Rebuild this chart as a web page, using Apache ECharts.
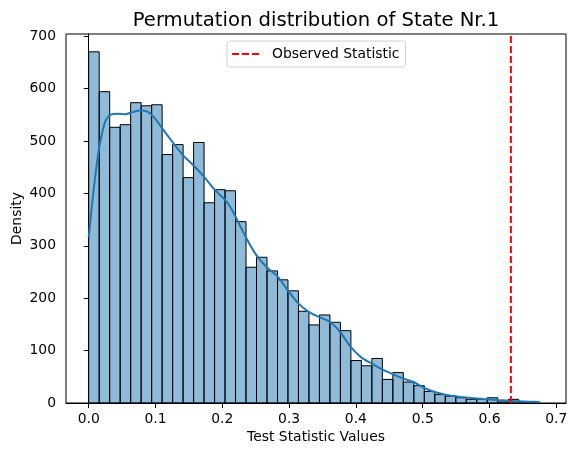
<!DOCTYPE html>
<html>
<head>
<meta charset="utf-8">
<script src="https://cdn.jsdelivr.net/npm/echarts@6/dist/echarts.min.js"></script>
<style>
html,body{margin:0;padding:0;background:#fff;}
#chart{width:577px;height:456px;}
</style>
</head>
<body>
<div id="chart"></div>
<script>
// Histogram: bins start at 0, each binWidth wide
const binStart = 0;
const binWidth = 0.0157;
const binCounts = [670, 594, 526, 531, 573, 567, 569, 474, 493, 430,
                   497, 382, 407, 405, 346, 259, 278, 252, 235, 214,
                   175, 149, 168, 154, 138, 81, 71, 85, 45, 58,
                   40, 33, 22, 16, 13, 10, 7, 7, 10, 2,
                   7, 2, 1];
// KDE curve
const kdeX = [0.0, 0.0054, 0.0105, 0.0154, 0.0204, 0.0254, 0.033, 0.043, 0.0554, 0.0653,
              0.078, 0.0878, 0.0978, 0.1078, 0.120, 0.1327, 0.1416, 0.157, 0.173, 0.1886,
              0.2045, 0.2115, 0.22, 0.235, 0.251, 0.2665, 0.2824, 0.298, 0.3138, 0.3293,
              0.345, 0.3608, 0.3767, 0.3922, 0.408, 0.4237, 0.4395, 0.455, 0.471, 0.4865,
              0.5024, 0.518, 0.5338, 0.5494, 0.5653, 0.5808, 0.5967, 0.6123, 0.628, 0.644,
              0.6596, 0.6752];
const kdeY = [316, 383, 440, 485, 517, 539, 550, 552, 551, 555,
              558, 556, 545, 528, 507, 486, 472, 453, 431, 407,
              387, 375, 355, 317, 282, 259, 242, 215, 190, 174,
              164, 155, 135, 107, 87, 75, 64, 55, 46.5, 40,
              28.6, 21, 16, 12.8, 10.3, 8.4, 7, 5.7, 4.5, 3.2,
              2.5, 2];
const observedStatistic = 0.632;
const xTicks = [0.0, 0.1, 0.2, 0.3, 0.4, 0.5, 0.6, 0.7];
const yTicks = [0, 100, 200, 300, 400, 500, 600, 700];

const FONT = 'DejaVu Sans';
const FS = 13.9;
const histData = binCounts.map((c, i) => [binStart + i * binWidth, binStart + (i + 1) * binWidth, c]);
const kdeData = kdeX.map((x, i) => [x, kdeY[i]]);

const chart = echarts.init(document.getElementById('chart'), null, {renderer: 'canvas'});
chart.setOption({
  animation: false,
  backgroundColor: '#fff',
  textStyle: {fontFamily: FONT},
  title: {
    text: 'Permutation distribution of State Nr.1',
    left: 311, top: 6, textAlign: 'center',
    textStyle: {fontFamily: FONT, fontSize: 19.6, fontWeight: 'normal', color: '#000'}
  },
  legend: {
    data: ['Observed Statistic'],
    top: 41, left: 227,
    backgroundColor: '#fff', borderColor: '#d0d0d0', borderWidth: 1, borderRadius: 3,
    padding: [6, 6, 6, 4],
    itemWidth: 30, itemHeight: 14, itemGap: 8,
    itemStyle: {opacity: 0},
    textStyle: {fontFamily: FONT, fontSize: FS, color: '#000', padding: [0, 0, 0, 5]}
  },
  grid: {left: 66, right: 11, top: 34, bottom: 53, show: true, borderColor: '#000', borderWidth: 1,
         backgroundColor: 'transparent', containLabel: false, outerBoundsMode: 'none'},
  xAxis: {
    type: 'value', min: -0.034, max: 0.7145,
    name: 'Test Statistic Values', nameLocation: 'middle', nameGap: 27, nameMoveOverlap: false,
    nameTextStyle: {fontFamily: FONT, fontSize: FS, color: '#000'},
    axisLine: {show: true, lineStyle: {color: '#000', width: 1}},
    axisTick: {show: true, length: 5, lineStyle: {color: '#000'}, customValues: xTicks},
    axisLabel: {fontFamily: FONT, fontSize: FS, color: '#000', margin: 9, customValues: xTicks,
                formatter: v => v.toFixed(1)},
    splitLine: {show: false}
  },
  yAxis: {
    type: 'value', min: 0, max: 704,
    name: 'Density', nameLocation: 'middle', nameGap: 42, nameRotate: 90, nameMoveOverlap: false,
    nameTextStyle: {fontFamily: FONT, fontSize: FS, color: '#000'},
    axisLine: {show: true, lineStyle: {color: '#000', width: 1}},
    axisTick: {show: true, length: 5, lineStyle: {color: '#000'}, customValues: yTicks},
    axisLabel: {fontFamily: FONT, fontSize: FS, color: '#000', margin: 10, customValues: yTicks},
    splitLine: {show: false}
  },
  series: [
    {
      name: 'hist', type: 'custom', data: histData,
      encode: {x: [0, 1], y: 2},
      renderItem: function (params, api) {
        const p0 = api.coord([api.value(0), api.value(2)]);
        const p1 = api.coord([api.value(1), 0]);
        return {
          type: 'rect',
          shape: {x: p0[0], y: p0[1], width: p1[0] - p0[0], height: p1[1] - p0[1]},
          style: {fill: 'rgba(31,119,180,0.5)', stroke: '#000', lineWidth: 1}
        };
      },
      z: 1
    },
    {
      name: 'kde', type: 'line', data: kdeData, smooth: 0.3, symbol: 'none',
      lineStyle: {color: '#1f77b4', width: 2}, itemStyle: {color: '#1f77b4'}, z: 3
    },
    {
      name: 'Observed Statistic', type: 'line',
      data: [[observedStatistic, 0], [observedStatistic, 704]],
      symbol: 'none',
      lineStyle: {color: '#ff0000', width: 2, type: [7, 3]},
      itemStyle: {color: '#ff0000'}, z: 4
    }
  ]
});
</script>
</body>
</html>
